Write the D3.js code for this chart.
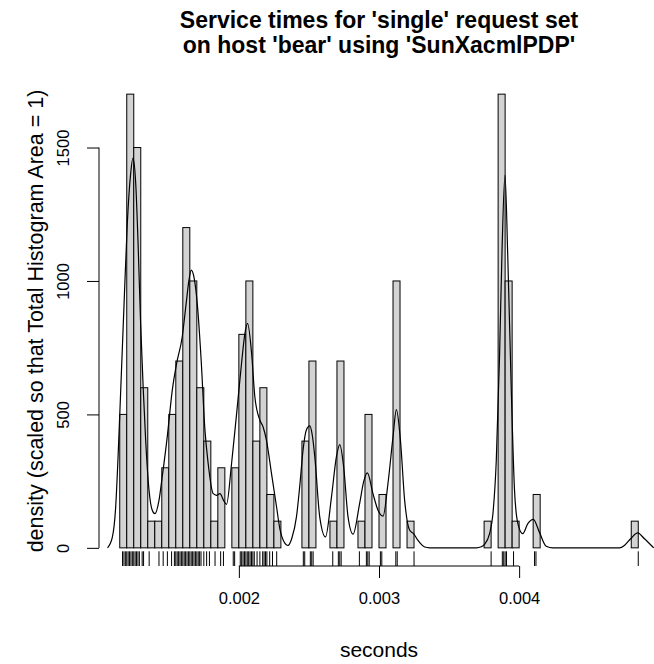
<!DOCTYPE html>
<html><head><meta charset="utf-8">
<script src="https://cdn.jsdelivr.net/npm/d3@7/dist/d3.min.js"></script>
<style>
body{margin:0;background:#fff}
text{font-family:"Liberation Sans",Arial,Helvetica,sans-serif;fill:#000}
</style>
</head><body>
<svg id="chart" width="654" height="664"></svg>
<script>
// ---------------- data ----------------
const titleLines = ["Service times for 'single' request set", "on host 'bear' using 'SunXacmlPDP'"];
const xLabel = "seconds";
const yLabel = "density (scaled so that Total Histogram Area = 1)";

// histogram: first break and bin width (seconds), then density of each bin
const binStart = 0.00115;
const binWidth = 0.00005;
const binDensity = [
  500, 1700, 1500, 600, 100, 100, 300, 500, 700, 1200,
  1000, 600, 400, 100, 300, 0, 300, 800, 1000, 400,
  600, 200, 100, 0, 0, 0, 400, 700, 0, 0,
  100, 700, 0, 0, 100, 500, 0, 200, 0, 1000,
  0, 100, 0, 0, 0, 0, 0, 0, 0, 0,
  0, 0, 100, 0, 1700, 1000, 100, 0, 0, 200,
  0, 0, 0, 0, 0, 0, 0, 0, 0, 0,
  0, 0, 0, 100
];

// kernel density curve
const densityX = [
  0.001063, 0.001097, 0.001121, 0.001138, 0.001157, 0.001180, 0.001204, 0.001228, 0.001244, 0.001264,
  0.001280, 0.001299, 0.001318, 0.001335, 0.001359, 0.001382, 0.001401, 0.001430, 0.001453, 0.001489,
  0.001525, 0.001556, 0.001596, 0.001624, 0.001644, 0.001660, 0.001679, 0.001703, 0.001731, 0.001758,
  0.001781, 0.001817, 0.001841, 0.001865, 0.001893, 0.001912, 0.001948, 0.001984, 0.002019, 0.002043,
  0.002062, 0.002091, 0.002114, 0.002150, 0.002173, 0.002197, 0.002233, 0.002269, 0.002292, 0.002321,
  0.002351, 0.002378, 0.002411, 0.002435, 0.002458, 0.002481, 0.002506, 0.002524, 0.002542, 0.002577,
  0.002618, 0.002661, 0.002696, 0.002720, 0.002748, 0.002779, 0.002815, 0.002862, 0.002891, 0.002917,
  0.002957, 0.002993, 0.003029, 0.003064, 0.003100, 0.003124, 0.003153, 0.003183, 0.003219, 0.003247,
  0.003278, 0.003326, 0.003361, 0.003694, 0.003730, 0.003753, 0.003789, 0.003813, 0.003837, 0.003860,
  0.003878, 0.003899, 0.003919, 0.003944, 0.003967, 0.003991, 0.004026, 0.004062, 0.004101, 0.004145,
  0.004193, 0.004240, 0.004716, 0.004751, 0.004799, 0.004846, 0.004894, 0.004960
];
const densityY = [
  0, 39, 153, 340, 591, 903, 1216, 1403, 1460, 1366,
  1153, 841, 591, 403, 216, 141, 128, 178, 266, 416,
  591, 691, 791, 916, 1003, 1041, 1016, 916, 703, 441,
  316, 203, 197, 203, 176, 163, 316, 503, 691, 803,
  841, 728, 566, 478, 453, 403, 278, 153, 73, 24,
  9, 36, 116, 234, 366, 441, 457, 422, 341, 116,
  41, 191, 341, 387, 303, 116, 51, 167, 249, 281,
  203, 141, 119, 241, 416, 518, 403, 178, 66, 53,
  28, 3, 0, 0, 4, 13, 53, 128, 328, 714,
  1116, 1397, 1089, 591, 216, 91, 53, 91, 107, 58,
  6, 0, 0, 9, 36, 56, 34, 0
];

// distinct observation values shown in the rug (seconds)
const rugValues = [
  0.00117, 0.00118, 0.00119, 0.00120, 0.00121, 0.00122, 0.00123, 0.00124, 0.00125, 0.00126,
  0.00127, 0.00128, 0.00129, 0.00131, 0.00132, 0.00136, 0.00143, 0.00146, 0.00149, 0.00152,
  0.00154, 0.00155, 0.00156, 0.00157, 0.00158, 0.00159, 0.00160, 0.00161, 0.00162, 0.00163,
  0.00164, 0.00165, 0.00166, 0.00167, 0.00168, 0.00169, 0.00170, 0.00171, 0.00172, 0.00173,
  0.00175, 0.00177, 0.00179, 0.00183, 0.00187, 0.00189, 0.00196, 0.00197, 0.00201, 0.00202,
  0.00203, 0.00204, 0.00205, 0.00206, 0.00207, 0.00208, 0.00209, 0.00210, 0.00211, 0.00213,
  0.00215, 0.00217, 0.00218, 0.00219, 0.00220, 0.00222, 0.00224, 0.00227, 0.00246, 0.00247,
  0.00251, 0.00252, 0.00253, 0.00267, 0.00271, 0.00272, 0.00273, 0.00286, 0.00291, 0.00292,
  0.00293, 0.00301, 0.00302, 0.00312, 0.00313, 0.00325, 0.00380, 0.00388, 0.00389, 0.00390,
  0.00391, 0.00396, 0.00411, 0.00412, 0.00485
];

const xTicks = [0.002, 0.003, 0.004];
const yTicks = [0, 500, 1000, 1500];

// ---------------- drawing ----------------
const svg = d3.select("#chart");
const plot = {left: 99, right: 659, top: 76, bottom: 566};

const x = d3.scaleLinear().domain([0.001002, 0.004998]).range([plot.left, plot.right]);
const y = d3.scaleLinear().domain([-68, 1768]).range([plot.bottom, plot.top]);

svg.append("defs").append("clipPath").attr("id", "plotClip")
  .append("rect").attr("x", plot.left).attr("y", plot.top)
  .attr("width", plot.right - plot.left).attr("height", plot.bottom - plot.top);

// bars
const bins = binDensity.map((d, i) => ({x0: binStart + i * binWidth, x1: binStart + (i + 1) * binWidth, d}));
svg.append("g").selectAll("rect").data(bins).join("rect")
  .attr("x", b => x(b.x0))
  .attr("width", b => x(b.x1) - x(b.x0))
  .attr("y", b => y(b.d))
  .attr("height", b => y(0) - y(b.d))
  .attr("fill", "#d3d3d3")
  .attr("stroke", "#000")
  .attr("stroke-width", 1);

// density curve
const pts = densityX.map((v, i) => [v, densityY[i]]);
svg.append("path")
  .attr("clip-path", "url(#plotClip)")
  .attr("d", d3.line().x(p => x(p[0])).y(p => y(p[1])).curve(d3.curveMonotoneX)(pts))
  .attr("fill", "none").attr("stroke", "#000").attr("stroke-width", 1.2);

// rug
const rugLen = 0.03 * (plot.bottom - plot.top);
svg.append("g").selectAll("line").data(rugValues).join("line")
  .attr("x1", v => x(v)).attr("x2", v => x(v))
  .attr("y1", plot.bottom).attr("y2", plot.bottom - rugLen)
  .attr("stroke", "#000").attr("stroke-width", 1);

// x axis
const tickLen = 12;
const xAxis = svg.append("g").attr("transform", `translate(0,${plot.bottom})`)
  .call(d3.axisBottom(x).tickValues(xTicks).tickFormat(d3.format(".3f")).tickSize(tickLen).tickSizeOuter(0));
xAxis.select(".domain").remove();
xAxis.append("line").attr("x1", x(xTicks[0])).attr("x2", x(xTicks[xTicks.length - 1]))
  .attr("stroke", "#000");
xAxis.selectAll(".tick line").attr("stroke", "#000");
xAxis.selectAll(".tick text").attr("font-size", 16.5).attr("font-family", null)
  .attr("y", 32).attr("dy", "0.35em");

// y axis
const yAxis = svg.append("g").attr("transform", `translate(${plot.left},0)`)
  .call(d3.axisLeft(y).tickValues(yTicks).tickFormat(d3.format("d")).tickSize(tickLen).tickSizeOuter(0));
yAxis.select(".domain").remove();
yAxis.append("line").attr("y1", y(yTicks[0])).attr("y2", y(yTicks[yTicks.length - 1]))
  .attr("stroke", "#000");
yAxis.selectAll(".tick line").attr("stroke", "#000");
yAxis.selectAll(".tick text").attr("font-size", 16.5).attr("font-family", null)
  .attr("x", null).attr("dy", null)
  .attr("text-anchor", "middle")
  .attr("transform", "translate(-36,0) rotate(-90)")
  .attr("y", 0).attr("dy", "0.35em");

// titles
svg.append("g").selectAll("text").data(titleLines).join("text")
  .attr("x", (plot.left + plot.right) / 2)
  .attr("y", (d, i) => 20 + i * 25)
  .attr("dy", "0.35em")
  .attr("text-anchor", "middle")
  .attr("font-weight", "bold")
  .attr("font-size", 23)
  .text(d => d);

svg.append("text")
  .attr("x", (plot.left + plot.right) / 2).attr("y", 650).attr("dy", "0.35em")
  .attr("text-anchor", "middle").attr("font-size", 21).text(xLabel);

svg.append("text")
  .attr("transform", `translate(35,${(plot.top + plot.bottom) / 2}) rotate(-90)`)
  .attr("dy", "0.35em")
  .attr("text-anchor", "middle").attr("font-size", 21.5).text(yLabel);
</script>
</body></html>
